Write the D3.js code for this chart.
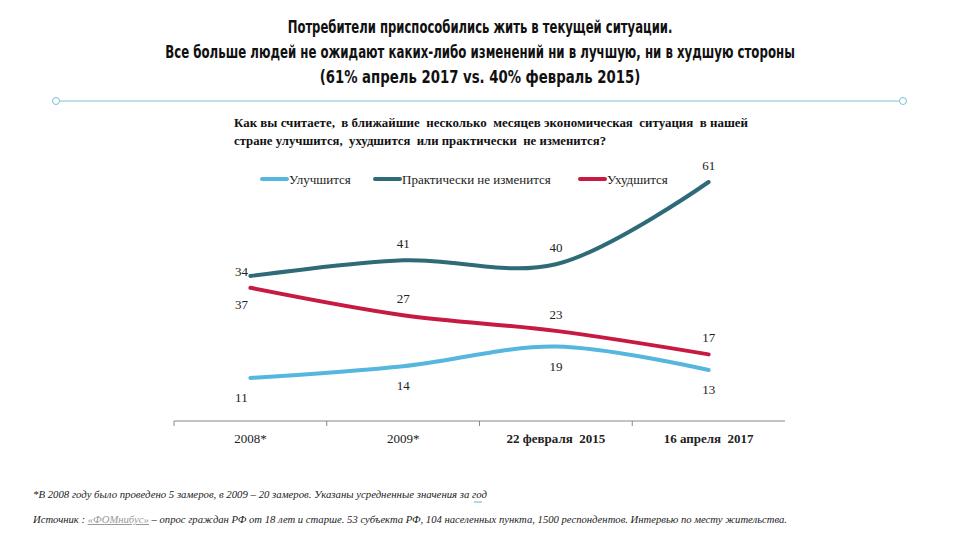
<!DOCTYPE html>
<html><head><meta charset="utf-8">
<script src="https://cdn.jsdelivr.net/npm/d3@7"></script>
<style>
html,body{margin:0;padding:0;background:#fff;}
svg{display:block;}
</style></head>
<body>
<svg id="chart" width="960" height="540"></svg>
<script>
const titleLines = [
  "Потребители приспособились жить в текущей ситуации.",
  "Все больше людей не ожидают каких-либо изменений ни в лучшую, ни в худшую стороны",
  "(61% апрель 2017 vs. 40% февраль 2015)"
];
const questionLines = [
  "Как вы считаете,  в ближайшие  несколько  месяцев экономическая  ситуация  в нашей",
  "стране улучшится,  ухудшится  или практически  не изменится?"
];
const categories = ["2008*", "2009*", "22 февраля  2015", "16 апреля  2017"];
const seriesNames = ["Улучшится", "Практически не изменится", "Ухудшится"];
const better = [11, 14, 19, 13];
const same = [37, 41, 40, 61];
const worse = [34, 27, 23, 17];
const footnote1 = "*В 2008 году было проведено 5 замеров, в 2009 – 20 замеров. Указаны усредненные значения за год";
const footnote2a = "Источник : ";
const footnote2link = "«ФОМнибус»";
const footnote2b = " – опрос граждан РФ от 18 лет и старше. 53 субъекта РФ, 104 населенных пункта, 1500 респондентов. Интервью по месту жительства.";

const svg = d3.select("#chart");
const colors = ["#55b7de", "#2f6a79", "#c61a42"];
const labelPos = [
  ["below","below","below","below"],
  ["below","above","above","above"],
  ["above","above","above","above"]
];

// Title (condensed horizontally with a scale transform)
const titleW = [385, 630, 321];
svg.append("g").selectAll("text").data(titleLines).join("text")
  .attr("x", 0).attr("y", 0)
  .attr("text-anchor", "middle")
  .attr("font-family", "'Liberation Sans Narrow','DejaVu Sans Condensed','Liberation Sans',sans-serif")
  .attr("font-weight", "bold").attr("font-size", 17).attr("fill", "#111")
  .text(d => d)
  .each(function(d, i) {
    const w = this.getComputedTextLength();
    const s = titleW[i] / w;
    d3.select(this).attr("transform", `translate(480,${33 + i*25}) scale(${s},1)`);
  });

// Separator
svg.append("line").attr("x1", 60).attr("x2", 899).attr("y1", 101).attr("y2", 101)
  .attr("stroke", "#7dbfd2").attr("stroke-width", 1.2);
[56, 903].forEach(cx => svg.append("circle").attr("cx", cx).attr("cy", 101).attr("r", 3.5)
  .attr("fill", "#fff").attr("stroke", "#7dbfd2").attr("stroke-width", 1));

// Question
const qW = [514, 372];
svg.append("g").selectAll("text").data(questionLines).join("text")
  .attr("x", 234).attr("y", (d,i) => 127 + i*18)
  .attr("font-family", "'Liberation Serif','Times New Roman',serif")
  .attr("font-weight", "bold").attr("font-size", 13).attr("fill", "#111")
  .attr("textLength", (d,i) => qW[i]).attr("lengthAdjust", "spacingAndGlyphs")
  .style("white-space", "pre")
  .text(d => d);

// Legend
const legendX = [262, 375, 580];
const lg = svg.append("g").selectAll("g").data(seriesNames).join("g")
  .attr("transform", (d,i) => `translate(${legendX[i]},179)`);
lg.append("line").attr("x1", 0).attr("x2", 25).attr("y1", 0).attr("y2", 0)
  .attr("stroke", (d,i) => colors[i]).attr("stroke-width", 4).attr("stroke-linecap", "round");
lg.append("text").attr("x", 27).attr("y", 4.5)
  .attr("font-family", "'Liberation Serif','Times New Roman',serif")
  .attr("font-size", 13).attr("fill", "#222").text(d => d);

// Scales
const x = d3.scaleBand().domain(categories).range([174, 785]).padding(0);
const y = d3.scaleLinear().domain([0, 61]).range([421, 182]);

// Axis
const axis = svg.append("g").attr("transform", "translate(0,421)");
axis.append("line").attr("x1", 174).attr("x2", 785).attr("stroke", "#888").attr("stroke-width", 1);
axis.selectAll(".tk").data(categories).join("line")
  .attr("x1", d => x(d)).attr("x2", d => x(d)).attr("y1", 0).attr("y2", 5)
  .attr("stroke", "#888");
axis.selectAll(".lb").data(categories).join("text")
  .attr("x", d => x(d) + x.bandwidth()/2).attr("y", 22)
  .attr("text-anchor", "middle")
  .attr("font-family", "'Liberation Serif','Times New Roman',serif")
  .attr("font-size", 13).attr("fill", "#222")
  .attr("font-weight", (d,i) => i >= 2 ? "bold" : "normal")
  .style("white-space", "pre")
  .text(d => d);

// Lines
const data = [better, same, worse];
const line = d3.line()
  .x((d,i) => x(categories[i]) + x.bandwidth()/2)
  .y(d => y(d))
  .curve(d3.curveCatmullRom.alpha(0.5));
svg.append("g").selectAll("path").data(data).join("path")
  .attr("d", d => line(d)).attr("fill", "none")
  .attr("stroke", (d,i) => colors[i]).attr("stroke-width", 4).attr("stroke-linecap", "round");

// Data labels
data.forEach((vals, si) => {
  svg.append("g").selectAll("text").data(vals).join("text")
    .attr("x", (d,i) => x(categories[i]) + x.bandwidth()/2 - (i === 0 ? 9 : 0))
    .attr("y", (d,i) => labelPos[si][i] === "above" ? y(d) - 12 : y(d) + 24 + (si === 1 ? 9 : 0))
    .attr("text-anchor", "middle")
    .attr("font-family", "'Liberation Serif','Times New Roman',serif")
    .attr("font-size", 13).attr("fill", "#222")
    .text(d => d);
});

// Footnotes
svg.append("text").attr("x", 33).attr("y", 498)
  .attr("font-family", "'Liberation Serif','Times New Roman',serif")
  .attr("font-style", "italic").attr("font-size", 10).attr("fill", "#222")
  .attr("textLength", 454).attr("lengthAdjust", "spacingAndGlyphs")
  .text(footnote1);
svg.append("line").attr("x1", 474).attr("x2", 482).attr("y1", 502).attr("y2", 502)
  .attr("stroke", "#6aaed0").attr("stroke-width", 1);
const f2 = svg.append("text").attr("x", 33).attr("y", 523)
  .attr("font-family", "'Liberation Serif','Times New Roman',serif")
  .attr("font-style", "italic").attr("font-size", 10).attr("fill", "#222")
  .attr("textLength", 754).attr("lengthAdjust", "spacingAndGlyphs");
f2.append("tspan").text(footnote2a);
f2.append("tspan").attr("fill", "#999").attr("text-decoration", "underline").text(footnote2link);
f2.append("tspan").text(footnote2b);
</script>
</body></html>
